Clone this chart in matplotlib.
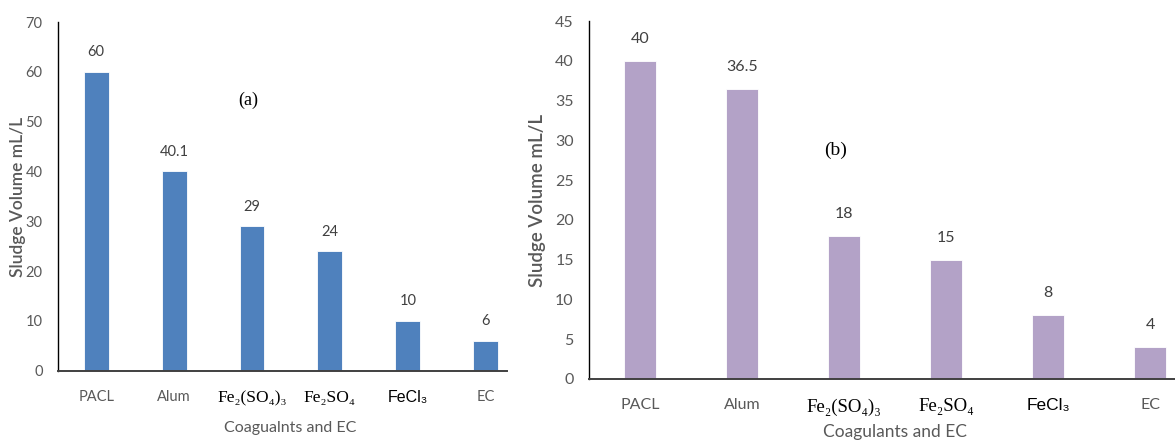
import matplotlib
matplotlib.use("Agg")
import matplotlib.pyplot as plt

categories = ["PACL", "Alum", "Fe₂(SO₄)₃", "Fe₂SO₄", "FeCl₃", "EC"]
values_a = [60, 40.1, 29, 24, 10, 6]
labels_a = ["60", "40.1", "29", "24", "10", "6"]
values_b = [40, 36.5, 18, 15, 8, 4]
labels_b = ["40", "36.5", "18", "15", "8", "4"]
yticks_a = [0, 10, 20, 30, 40, 50, 60, 70]
yticks_b = [0, 5, 10, 15, 20, 25, 30, 35, 40, 45]
xlabel_a = "Coagualnts and EC"
xlabel_b = "Coagulants and EC"
ylabel = "Sludge Volume mL/L"

W, H = 1175, 441
fig = plt.figure(figsize=(W / 100, H / 100), dpi=100)

GRAY = "#595959"
SANS = ["Lato", "DejaVu Sans"]
SERIF = ["Liberation Serif", "DejaVu Serif"]


def ax_rect(x0, x1, ytop, ybot):
    return [x0 / W, 1 - ybot / H, (x1 - x0) / W, (ybot - ytop) / H]


def style_xlabels(ax, size):
    for i, t in enumerate(ax.get_xticklabels()):
        if i in (0, 1, 5):
            t.set_family(SANS)
            t.set_color(GRAY)
            t.set_fontsize(size)
        elif i in (2, 3):
            t.set_family(SERIF)
            t.set_color("black")
            t.set_fontsize(size + 2)
        else:
            t.set_family(["Liberation Sans", "DejaVu Sans"])
            t.set_color("black")
            t.set_fontsize(size + 1)


def panel(ax, values, labels, yticks, color, ylim, xlim, fsz, lab_off):
    x = list(range(len(categories)))
    ax.bar(x, values, width=0.32, color=color, edgecolor="white",
           linewidth=0.6, zorder=2)
    for xi, v, lab in zip(x, values, labels):
        ax.annotate(lab, (xi, v), xytext=(0, lab_off), textcoords="offset points",
                    ha="center", va="center", fontsize=fsz, color="#404040",
                    family=SANS)
    ax.set_xlim(*xlim)
    ax.set_ylim(*ylim)
    ax.set_yticks(yticks)
    ax.set_yticklabels([str(t) for t in yticks], family=SANS, fontsize=fsz,
                       color=GRAY)
    ax.set_xticks(x)
    ax.set_xticklabels(categories)
    ax.tick_params(axis="both", length=0)
    ax.tick_params(axis="y", pad=11)
    ax.tick_params(axis="x", pad=14)
    for s in ("top", "right"):
        ax.spines[s].set_visible(False)
    ax.spines["left"].set_color("black")
    ax.spines["left"].set_linewidth(1.0)
    ax.spines["bottom"].set_color("#404040")
    ax.spines["bottom"].set_linewidth(1.4)
    ax.spines["bottom"].set_zorder(3)


# Panel (a)
ax1 = fig.add_axes(ax_rect(58, 506.7, 22, 370.7))
panel(ax1, values_a, labels_a, yticks_a, "#4F81BD", (0, 70), (-0.49, 5.27),
      10.5, 14)
style_xlabels(ax1, 10.5)
fig.text(18 / W, 1 - 197 / H, ylabel, rotation=90, ha="center", va="center",
         fontsize=12.5, color=GRAY, family=SANS, fontweight="semibold")
fig.text(290 / W, 1 - 428 / H, xlabel_a, ha="center", va="center",
         fontsize=11.5, color=GRAY, family=SANS)
fig.text(248 / W, 1 - 100 / H, "(a)", ha="center", va="center",
         fontsize=13, color="black", family=SERIF)

# Panel (b)
ax2 = fig.add_axes(ax_rect(589, 1175, 21.2, 379))
panel(ax2, values_b, labels_b, yticks_b, "#B3A2C7", (0, 45), (-0.5, 5.245),
      11.5, 16)
style_xlabels(ax2, 11.5)
fig.text(537 / W, 1 - 200 / H, ylabel, rotation=90, ha="center", va="center",
         fontsize=13.5, color=GRAY, family=SANS, fontweight="semibold")
fig.text(895 / W, 1 - 432 / H, xlabel_b, ha="center", va="center",
         fontsize=12.5, color=GRAY, family=SANS)
fig.text(836 / W, 1 - 150 / H, "(b)", ha="center", va="center",
         fontsize=14, color="black", family=SERIF)

fig.savefig("out.png", dpi=100, facecolor="white")
